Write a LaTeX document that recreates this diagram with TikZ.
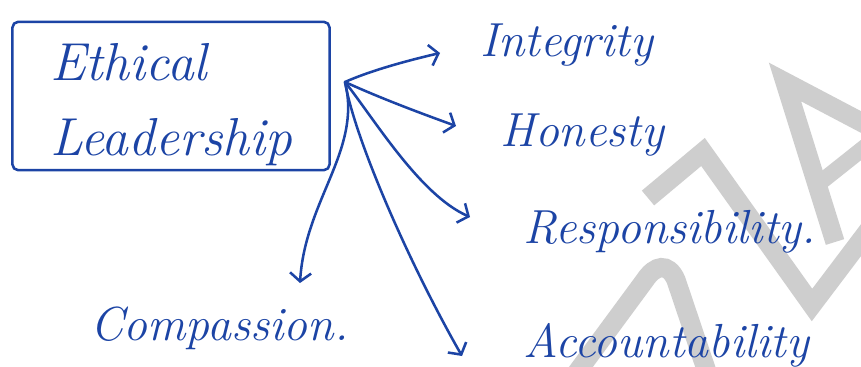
\documentclass[tikz,border=0pt]{standalone}
\usetikzlibrary{arrows.meta}
\begin{document}
\begin{tikzpicture}[x=0.025cm,y=-0.025cm,
  pen/.style={draw=ink,line width=1.8pt,line cap=round,line join=round},
  pointer/.style={pen,-{Straight Barb[length=6pt,width=15pt]}},
  word/.style={text=ink,font=\fontsize{34}{40}\selectfont\itshape,inner sep=0pt,anchor=base west},
  framebox/.style={pen,text=ink,font=\fontsize{38}{53}\selectfont\itshape,align=left,
    minimum width=7.925cm,minimum height=3.7cm,rounded corners=4pt},
  wmark/.style={draw=wgray,line width=0.48cm,line join=miter}]
\definecolor{ink}{RGB}{28,68,165}
\definecolor{wgray}{RGB}{206,206,206}

	\useasboundingbox (0,0) rectangle (861,367);
	\fill[white] (0,0) rectangle (861,367);

	% watermark behind the ink
	\begin{scope}
	\clip (0,0) rectangle (861,367);
	\draw[wmark] (575,375) -- (645,280) .. controls (655,265) and (668,262) .. (676,280) -- (708,375);
	\draw[wmark] (648,198) -- (703,152) -- (812,305) -- (880,215);
	\draw[wmark] (835,242) -- (785,82) -- (880,132);
	\draw[wmark,line width=0.4cm] (817,185) -- (880,135);
	\end{scope}

	\node[framebox] (lead) at (171,96) {\rule{0pt}{1.35cm}Ethical\\Leadership};

	\node[word] (integ) at (480,57) {Integrity};
	\node[word] (hon) at (500,147) {Honesty};
	\node[word] (resp) at (523,243) {Responsibility.};
	\node[word] (acc) at (523,357) {Accountability};
	\node[word] (comp) at (90,340) {Compassion.};

	\coordinate (hub) at (345,82);
	\coordinate (tInt) at (440,53);
	\coordinate (tHon) at (456,126);
	\coordinate (tRes) at (470,217);
	\coordinate (tAcc) at (462,356);
	\coordinate (tCom) at (300,283);

	\draw[pointer] (hub) .. controls (372,70) and (410,60) .. (tInt);
	\draw[pointer] (hub) .. controls (380,98) and (420,113) .. (tHon);
	\draw[pointer] (hub) .. controls (375,120) and (420,195) .. (tRes);
	\draw[pointer] (hub) .. controls (355,140) and (410,265) .. (tAcc);
	\draw[pointer] (hub) .. controls (362,150) and (305,200) .. (tCom);

\end{tikzpicture}
\end{document}
